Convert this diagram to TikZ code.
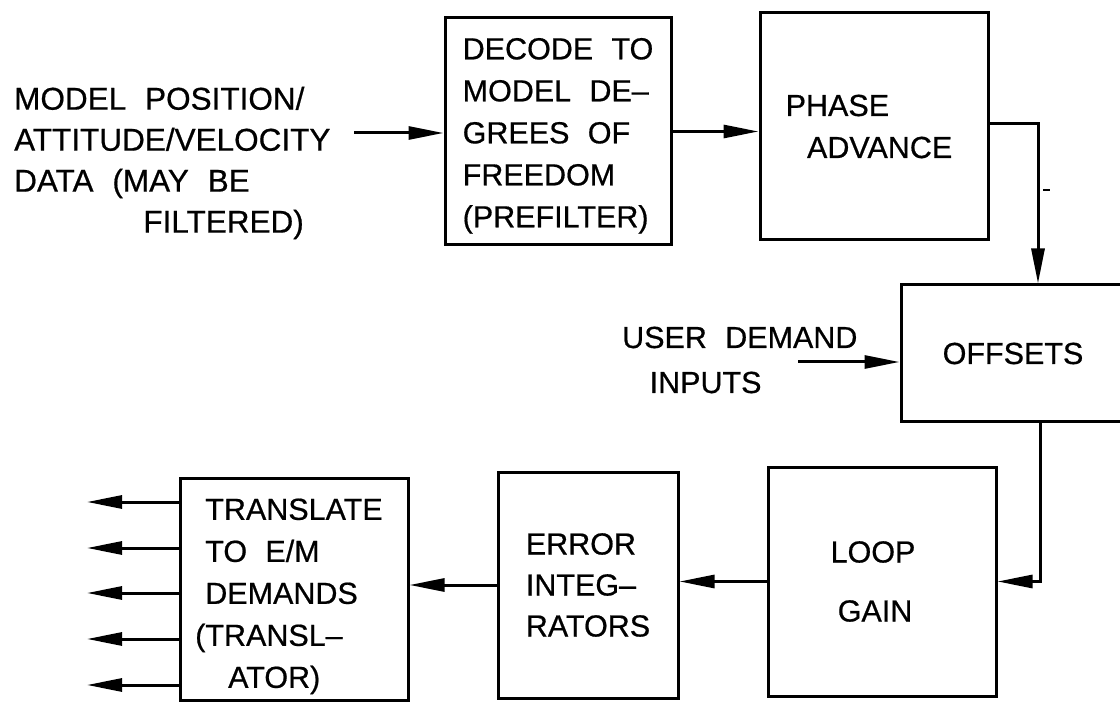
\documentclass[tikz,border=0pt]{standalone}
\usepackage{fontspec}
\setmainfont{Liberation Sans}[BoldFont={Liberation Sans}, BoldFeatures={FakeBold=0.6}]
\usetikzlibrary{arrows.meta}
\newcommand\wsp{\hspace{0.6em}}
\begin{document}
\begin{tikzpicture}[x=1pt,y=-1pt,
  box/.style={draw, line width=3pt, align=left, inner sep=0pt,
              font=\bfseries\fontsize{30.5pt}{42pt}\selectfont},
  lbl/.style={align=left, inner sep=0pt, font=\bfseries\fontsize{31.5pt}{41pt}\selectfont},
  flow/.style={line width=3pt, -{Triangle[length=35pt,width=13pt]}}]
\useasboundingbox (0,0) rectangle (1120,703);
\clip (0,0) rectangle (1120,703);

% boxes
\node[box, minimum width=226pt, minimum height=227pt] (decode) at (558,131.5)
  {\rule{0pt}{30pt}DECODE\wsp TO\\MODEL\wsp DE–\\GREES\wsp OF\\FREEDOM\\(PREFILTER)};
\node[box, minimum width=228pt, minimum height=227pt] (phase) at (874,126.5)
  {PHASE\\\hspace*{0.7em}ADVANCE\hspace*{0.33em}};
\node[box, minimum width=224pt, minimum height=137pt] (offsets) at (1013,353.5)
  {OFFSETS};
\node[box, align=center, minimum width=228pt, minimum height=229pt] (loop) at (882,581.5)
  {LOOP\hspace*{18pt}\\[17pt]GAIN\hspace*{14pt}};
\node[box, minimum width=180pt, minimum height=226pt,
      font=\bfseries\fontsize{30.5pt}{41pt}\selectfont] (error) at (588,585)
  {ERROR\\INTEG–\\RATORS};
\node[box, minimum width=228pt, minimum height=222pt] (trans) at (294,589)
  {\rule{0pt}{36pt}TRANSLATE\\TO\wsp E/M\\DEMANDS\\\hspace*{-0.33em}(TRANSL–\\\hspace*{0.75em}ATOR)};

% free labels
\node[lbl, anchor=west] (src) at (14,163)
  {MODEL\wsp POSITION/\\ATTITUDE/VELOCITY\\DATA\wsp (MAY\wsp BE\\\hspace*{4.1em}FILTERED)};
\node[lbl, anchor=west, font=\bfseries\fontsize{30.5pt}{45pt}\selectfont] (user) at (622,360)
  {USER\wsp DEMAND\\\hspace*{0.9em}INPUTS};

% free ends
\coordinate (inA) at (354,133);
\coordinate (inB) at (798,362);
\coordinate (o1) at (87,502);
\coordinate (o2) at (87,548);
\coordinate (o3) at (87,593);
\coordinate (o4) at (87,639);
\coordinate (o5) at (87,685);

% connectors
\draw[flow] (inA) -- (inA -| decode.west);
\draw[flow] (decode.east) -- (decode.east -| phase.west);
\draw[flow] ([yshift=3pt]phase.east) -| ([xshift=25pt]offsets.north);
\draw[flow] (inB) -- (inB -| offsets.west);
\draw[flow] ([xshift=27pt]offsets.south) |- (loop.east);
\draw[flow] (loop.west) -- (loop.west -| error.east);
\draw[flow] (error.west) -- (error.west -| trans.east);
\foreach \o in {o1,o2,o3,o4,o5}
  \draw[flow] (\o -| trans.west) -- (\o);

% small stray tick beside the descending line
\draw[line width=1.5pt] (1043,190) -- (1050,190);
\end{tikzpicture}
\end{document}
